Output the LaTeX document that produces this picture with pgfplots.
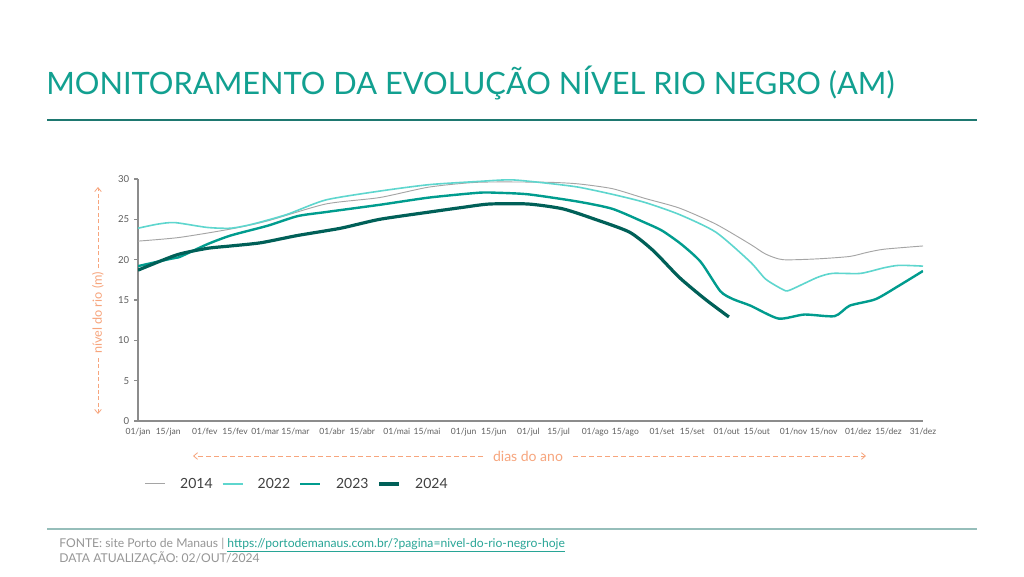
\documentclass[border=0pt]{standalone}
\usepackage{fontspec}
\setmainfont{Lato}
\usepackage{pgfplots}
\pgfplotsset{compat=1.18}
\usetikzlibrary{arrows.meta}
\definecolor{titleteal}{RGB}{18,160,144}
\definecolor{ruleteal}{RGB}{30,120,112}
\definecolor{rulelight}{RGB}{150,190,186}
\definecolor{c2014}{RGB}{165,165,165}
\definecolor{c2022}{RGB}{94,214,206}
\definecolor{c2023}{RGB}{0,156,142}
\definecolor{c2024}{RGB}{0,96,88}
\definecolor{lblorange}{RGB}{247,165,125}
\definecolor{ticktext}{RGB}{95,95,95}
\definecolor{foottext}{RGB}{150,150,150}
\definecolor{footlink}{RGB}{40,165,150}

\pgfplotstableread{
d v
1 22.3
20 22.75
44 23.8
61 24.8
88 26.9
113 27.7
136 29.0
159 29.6
190 29.6
205 29.4
221 28.8
236 27.6
252 26.4
269 24.4
285 21.9
292 20.7
300 20.0
316 20.1
331 20.4
339 20.9
347 21.3
365 21.7
}\tabA

\pgfplotstableread{
d v
1 23.9
10 24.4
18 24.6
33 24.0
44 23.9
54 24.4
70 25.6
88 27.4
113 28.5
136 29.3
159 29.7
174 29.9
190 29.5
205 29.0
221 28.1
236 27.1
252 25.6
269 23.4
285 19.7
292 17.6
300 16.3
303 16.2
316 17.8
323 18.3
336 18.3
347 19.0
354 19.3
365 19.2
}\tabB

\pgfplotstableread{
d v
1 19.2
16 20.1
20 20.3
33 21.9
44 23.0
61 24.2
75 25.4
88 25.9
113 26.8
136 27.7
159 28.3
167 28.3
182 28.1
205 27.2
221 26.3
236 24.6
244 23.6
253 21.9
262 19.7
271 16.1
277 15.1
285 14.3
298 12.7
310 13.2
324 13.0
331 14.3
343 15.1
354 16.8
365 18.6
}\tabC

\pgfplotstableread{
d v
1 18.7
19 20.6
33 21.4
44 21.7
58 22.1
75 23.0
95 23.9
113 25.0
136 25.9
152 26.5
164 26.9
182 26.9
198 26.3
213 25.0
229 23.4
240 21.1
252 17.8
264 15.1
275 12.9
}\tabD

\begin{document}
\begin{tikzpicture}[x=0.75pt,y=-0.75pt]
\fill[white] (0,0) rectangle (1024,576);
% title
\node[anchor=west, inner sep=0pt, text=titleteal] at (46,83)
  {\fontsize{23.1}{26}\selectfont MONITORAMENTO DA EVOLUÇÃO NÍVEL RIO NEGRO (AM)};
\draw[ruleteal, line width=1.1pt] (47,120) -- (977,120);
\draw[rulelight, line width=1pt] (47,529) -- (977,529);
% footer
\node[anchor=west, inner sep=0pt, text=foottext] at (59,545)
  {\fontsize{9.1}{10}\selectfont FONTE: site Porto de Manaus | \textcolor{footlink}{\underline{https://portodemanaus.com.br/?pagina=nivel-do-rio-negro-hoje}}};
\node[anchor=west, inner sep=0pt, text=foottext] at (59,558)
  {\fontsize{9.1}{10}\selectfont DATA ATUALIZAÇÃO: 02/OUT/2024};
% y label
\node[rotate=90, text=lblorange, inner sep=0pt] at (98,313)
  {\fontsize{9.5}{11}\selectfont nível do rio (m)};
\draw[lblorange, line width=0.6pt, dash pattern=on 3pt off 1.8pt, -{Straight Barb[length=3pt,width=5pt]}] (98,268) -- (98,187);
\draw[lblorange, line width=0.6pt, dash pattern=on 3pt off 1.8pt, -{Straight Barb[length=3pt,width=5pt]}] (98,358) -- (98,414);
% x label
\node[text=lblorange, inner sep=0pt] at (528,456)
  {\fontsize{10.5}{12}\selectfont dias do ano};
\draw[lblorange, line width=0.6pt, dash pattern=on 4pt off 2pt, -{Straight Barb[length=3pt,width=5pt]}] (483,456) -- (193,456);
\draw[lblorange, line width=0.6pt, dash pattern=on 4pt off 2pt, -{Straight Barb[length=3pt,width=5pt]}] (573,456) -- (866,456);

\begin{axis}[
  at={(103.5pt,-315.75pt)}, anchor=south west,
  scale only axis, width=588.75pt, height=181.5pt,
  xmin=1, xmax=365, ymin=0, ymax=30,
  axis lines*=left,
  axis line style={draw=black!45, line width=1.3pt},
  ytick={0,5,...,30},
  xtick={1,15,32,46,60,74,91,105,121,135,152,166,182,196,213,227,244,258,274,288,305,319,335,349,365},
  xticklabels={01/jan,15/jan,01/fev,15/fev,01/mar,15/mar,01/abr,15/abr,01/mai,15/mai,01/jun,15/jun,01/jul,15/jul,01/ago,15/ago,01/set,15/set,01/out,15/out,01/nov,15/nov,01/dez,15/dez,31/dez},
  x tick style={draw=none},
  y tick style={draw=black!45, line width=0.8pt},
  major tick length=3pt,
  tick align=outside,
  xticklabel style={font=\fontsize{6.4}{7}\selectfont, text=ticktext, yshift=1pt},
  yticklabel style={font=\fontsize{7.2}{8}\selectfont, text=ticktext},
  /pgf/number format/assume math mode=true,
  legend style={draw=none, fill=none, at={(0.005,-0.26)}, anchor=west,
    font=\fontsize{10.5}{12}\selectfont, text=black!75, inner xsep=2pt},
  legend columns=4,
  legend image code/.code={\draw[#1] (0pt,0pt) -- (15pt,0pt);},
  /tikz/every even column/.append style={column sep=4.8pt},
  /tikz/every odd column/.append style={column sep=8.8pt},
]
\addplot[c2014, line width=0.7pt, smooth, tension=0.4] table[x=d,y=v] {\tabA};
\addlegendentry{2014}
\addplot[c2022, line width=1.2pt, smooth, tension=0.4] table[x=d,y=v] {\tabB};
\addlegendentry{2022}
\addplot[c2023, line width=1.8pt, smooth, tension=0.4] table[x=d,y=v] {\tabC};
\addlegendentry{2023}
\addplot[c2024, line width=2.4pt, smooth, tension=0.4] table[x=d,y=v] {\tabD};
\addlegendentry{2024}
\end{axis}
\end{tikzpicture}
\end{document}
